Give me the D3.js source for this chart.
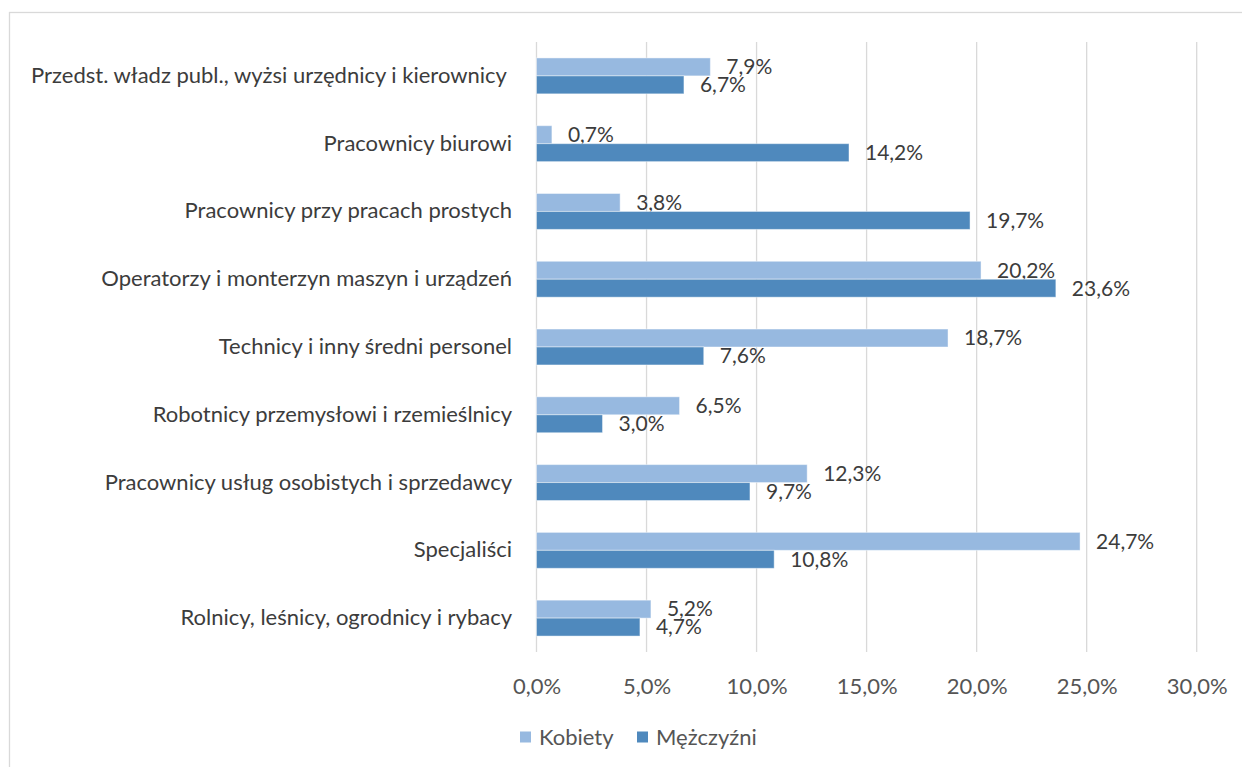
<!DOCTYPE html>
<html lang="pl">
<head>
<meta charset="utf-8">
<script src="https://cdn.jsdelivr.net/npm/d3@7"></script>
<style>
  html, body { margin: 0; padding: 0; background: #fff; }
  svg { display: block; }
  text { font-family: Lato, "Open Sans", sans-serif; }
</style>
</head>
<body>
<svg id="chart" width="1242" height="767"></svg>
<script>
// Occupational groups, top to bottom
const categories = [
  "Przedst. władz publ., wyżsi urzędnicy i kierownicy ",
  "Pracownicy biurowi",
  "Pracownicy przy pracach prostych",
  "Operatorzy i monterzyn maszyn i urządzeń",
  "Technicy i inny średni personel",
  "Robotnicy przemysłowi i rzemieślnicy",
  "Pracownicy usług osobistych i sprzedawcy",
  "Specjaliści",
  "Rolnicy, leśnicy, ogrodnicy i rybacy"
];
const seriesNames = ["Kobiety", "Mężczyźni"];
const kobiety   = [7.9, 0.7, 3.8, 20.2, 18.7, 6.5, 12.3, 24.7, 5.2];
const mezczyzni = [6.7, 14.2, 19.7, 23.6, 7.6, 3.0, 9.7, 10.8, 4.7];
const xTicks = [0, 5, 10, 15, 20, 25, 30];

const colors = ["#97b9e0", "#4f89bd"];
const textColor = "#3c3c3c";
const labelSize = 22;
const valueSize = 21;

const svg = d3.select("#chart");

// outer frame of the chart area
svg.append("rect")
  .attr("x", 9.5).attr("y", 12.5)
  .attr("width", 1260).attr("height", 800)
  .attr("fill", "none").attr("stroke", "#d9d9d9").attr("stroke-width", 1.3);

const plot = { left: 536.5, right: 1196.7, top: 42, bottom: 652 };

const x = d3.scaleLinear().domain([0, 30]).range([plot.left, plot.right]);
const y = d3.scaleBand().domain(categories).range([plot.top, plot.bottom]).paddingInner(0.47).paddingOuter(0.235);
const ySub = d3.scaleBand().domain(seriesNames).range([0, y.bandwidth()]);

// vertical gridlines
svg.append("g").selectAll("line").data(xTicks).join("line")
  .attr("x1", d => x(d)).attr("x2", d => x(d))
  .attr("y1", plot.top).attr("y2", plot.bottom)
  .attr("stroke", "#d9d9d9").attr("stroke-width", 1.3);

// x axis tick labels
const fmt = v => v.toFixed(1).replace(".", ",") + "%";
const xAxis = d3.axisBottom(x).tickValues(xTicks).tickFormat(fmt).tickSize(0).tickPadding(0);
const gx = svg.append("g").attr("transform", `translate(0, ${plot.bottom})`).call(xAxis);
gx.select(".domain").remove();
gx.selectAll("text")
  .attr("y", 34).attr("dy", "0.35em")
  .attr("fill", "#555555").style("font-size", labelSize + "px")
  .style("font-family", "Lato, sans-serif");

// category labels
const yAxis = d3.axisLeft(y).tickSize(0).tickPadding(0);
const gy = svg.append("g").attr("transform", `translate(512, 0)`).call(yAxis);
gy.select(".domain").remove();
gy.selectAll("text")
  .attr("fill", textColor).style("font-size", labelSize + "px")
  .style("font-family", "Lato, sans-serif")
  .style("white-space", "pre");

// bars and value labels
const rows = categories.map((c, i) => ({ cat: c, values: [kobiety[i], mezczyzni[i]] }));
const groups = svg.append("g").selectAll("g").data(rows).join("g")
  .attr("transform", d => `translate(0, ${y(d.cat)})`);

const cells = groups.selectAll("g").data(d => d.values.map((v, j) => ({ v, s: seriesNames[j], j }))).join("g");

cells.append("rect")
  .attr("x", x(0))
  .attr("y", d => ySub(d.s))
  .attr("width", d => x(d.v) - x(0))
  .attr("height", ySub.bandwidth())
  .attr("fill", d => colors[d.j])
  .attr("stroke", "#ffffff").attr("stroke-opacity", 0.45).attr("stroke-width", 1);

cells.append("text")
  .attr("x", d => x(d.v) + 16)
  .attr("y", d => ySub(d.s) + ySub.bandwidth() / 2)
  .attr("dy", "0.35em")
  .attr("fill", textColor).style("font-size", valueSize + "px")
  .text(d => fmt(d.v));

// legend
const legend = svg.append("g").attr("transform", "translate(520, 737)");
const legX = [0, 117];
seriesNames.forEach((name, j) => {
  const g = legend.append("g").attr("transform", `translate(${legX[j]}, 0)`);
  g.append("rect").attr("x", 0).attr("y", -5.5).attr("width", 11).attr("height", 11).attr("fill", colors[j]);
  g.append("text").attr("x", 19).attr("y", 0).attr("dy", "0.35em")
    .attr("fill", "#555555").style("font-size", labelSize + "px").text(name);
});
</script>
</body>
</html>
